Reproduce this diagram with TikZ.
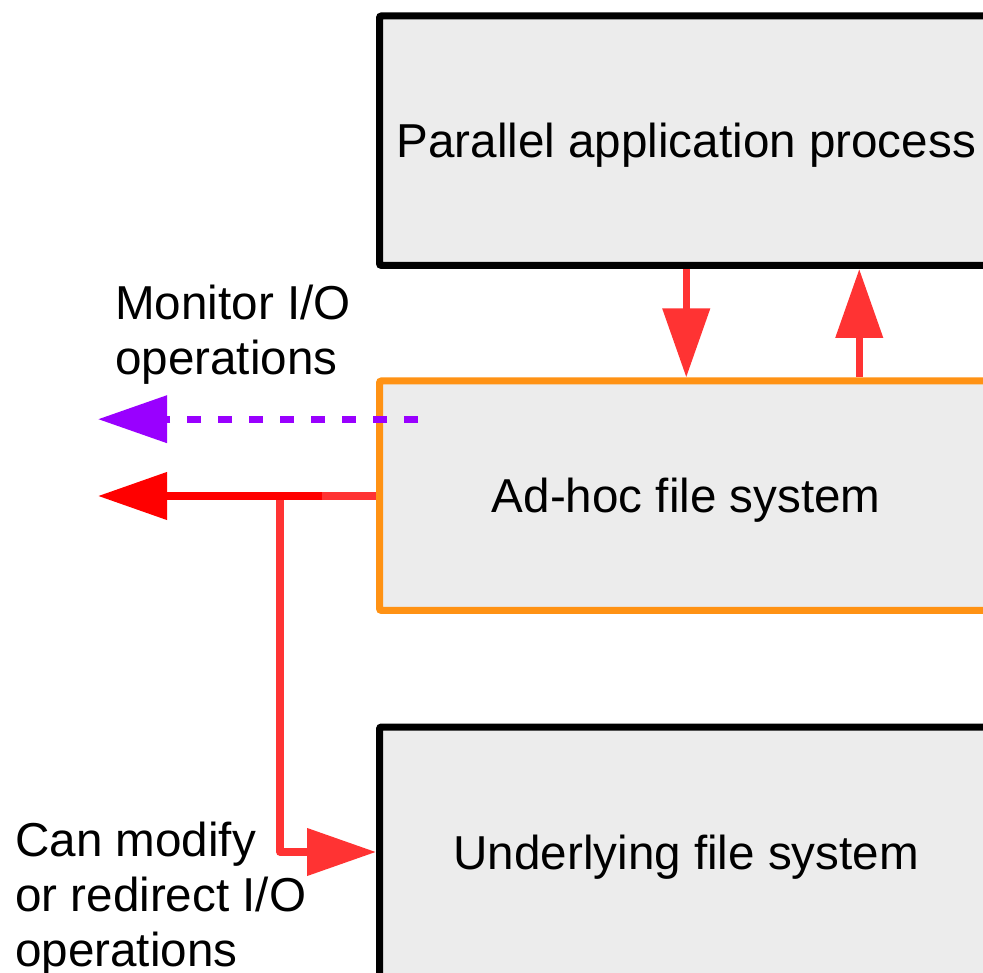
\documentclass[tikz,border=0pt]{standalone}
\usepackage{fontspec}
\setmainfont{Liberation Sans}
\usetikzlibrary{arrows.meta,positioning,calc}
\definecolor{boxgray}{HTML}{ECECEC}
\definecolor{fsorange}{HTML}{FF9214}
\definecolor{iored}{HTML}{FF3333}
\definecolor{monpurple}{HTML}{9900FF}
\tikzset{
  layer/.style={draw, line width=7pt, fill=boxgray, rounded corners=2pt,
    minimum width=613.5pt, inner sep=0pt, text depth=0pt,
    font=\fontsize{47.6}{54.7}\selectfont},
  note/.style={anchor=north west, inner sep=0pt, align=left,
    font=\fontsize{47.6}{54.7}\selectfont},
  flow/.style={draw=iored, line width=7.5pt, line join=round,
    -{Triangle[length=69pt,width=46pt]}},
}

\begin{document}
\begin{tikzpicture}[x=1pt,y=-1pt]
    \useasboundingbox (0,0) rectangle (983,973);
    \clip (0,0) rectangle (983,973);

    \node[layer, minimum height=249.5pt] (app) at (686.25,140.7) {Parallel application process};
    \node[layer, draw=fsorange, minimum height=229.5pt] (fs) at (686.25,495.7) {Ad-hoc file system};
    \node[layer, minimum height=250pt] (under) at (686.25,852) {Underlying file system};

    % traffic between the application and the ad-hoc layer
    \draw[flow] (app.south) -- (fs.north);
    \draw[flow] ([xshift=173pt]fs.north) -- ([xshift=173pt]app.south);

    % monitoring
    \coordinate (monstart) at (418,419.2);
    \coordinate (monend) at (98,419.2);
    \draw[flow, draw=monpurple, line width=7pt, dash pattern=on 14pt off 17pt,
      -{Triangle[length=69pt,width=46pt,fill=monpurple]}] (monstart) -- (monend);
    \node[note] (monitor) at (115,285) {Monitor I/O\\operations};

    % modify or redirect
    \coordinate (branch) at (280,496);
    \coordinate (split) at (322,496);
    \coordinate (outend) at (98,496);
    \draw[flow] (fs.west |- branch) -- (branch) |- (under.west);
    \draw[flow, draw=red] (split) -- (outend);
    \node[note] (redirect) at (15,822) {Can modify\\or redirect I/O\\operations};
\end{tikzpicture}
\end{document}
